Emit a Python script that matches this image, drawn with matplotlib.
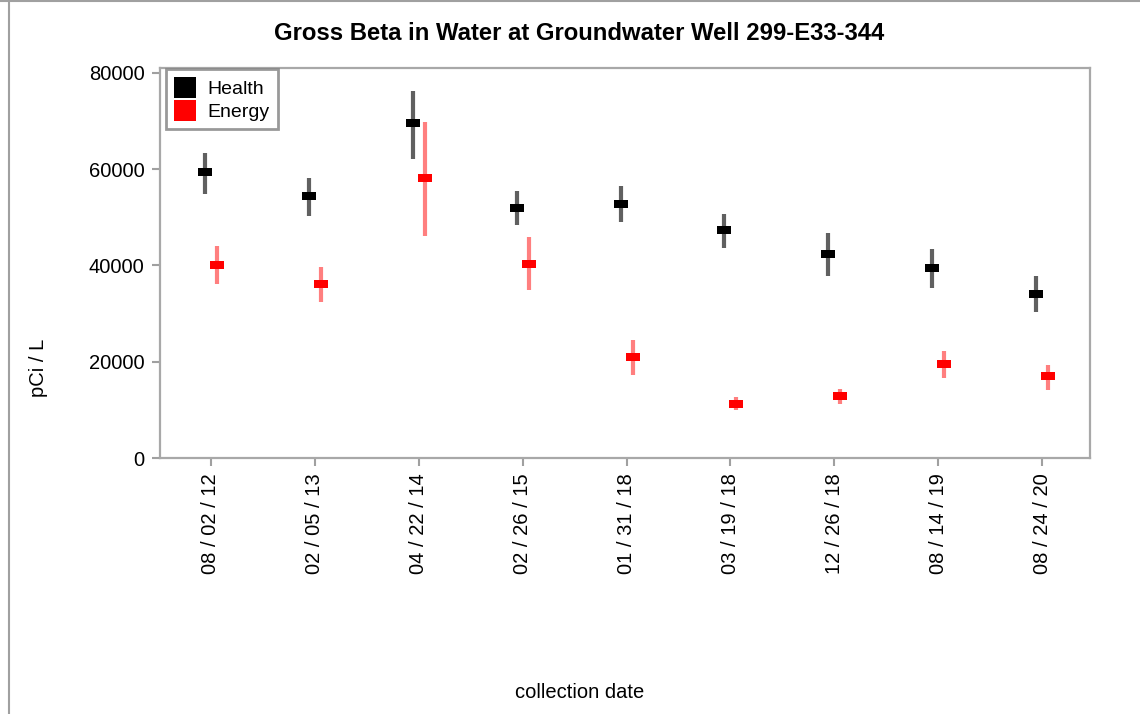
import matplotlib
matplotlib.use("Agg")
import matplotlib.pyplot as plt
import numpy as np
from matplotlib.patches import Patch
from matplotlib.lines import Line2D

plt.rcParams['font.family'] = ['Liberation Sans', 'DejaVu Sans']

dates = ["08 / 02 / 12", "02 / 05 / 13", "04 / 22 / 14", "02 / 26 / 15", "01 / 31 / 18",
         "03 / 19 / 18", "12 / 26 / 18", "08 / 14 / 19", "08 / 24 / 20"]
health = [59300, 54400, 69500, 52000, 52800, 47400, 42400, 39500, 34100]
health_low = [54900, 50300, 62100, 48300, 49000, 43700, 37900, 35400, 30300]
health_high = [63400, 58100, 76300, 55500, 56400, 50600, 46800, 43500, 37700]
energy = [40100, 36200, 58200, 40300, 21000, 11150, 12900, 19500, 17000]
energy_low = [36200, 32400, 46200, 34900, 17200, 9970, 11300, 16600, 14100]
energy_high = [44000, 39700, 69700, 46000, 24500, 12600, 14300, 22200, 19400]
yticks = [0, 20000, 40000, 60000, 80000]

fig = plt.figure(figsize=(11.4, 7.14), dpi=100)
ax = fig.add_axes([160/1140, 1-458/714, 930/1140, 390/714])

x = np.arange(len(dates))
off = 0.058
rect = [(-1, -0.62), (1, -0.62), (1, 0.62), (-1, 0.62), (-1, -0.62)]

def draw(xs, vals, lo, hi, lcol, mcol):
    vals = np.array(vals); lo = np.array(lo); hi = np.array(hi)
    ax.errorbar(xs, vals, yerr=[vals - lo, hi - vals], fmt='none', ecolor=lcol,
                elinewidth=3.0, capsize=0, zorder=2)
    ax.plot(xs, vals, linestyle='none', marker=rect, markersize=9.5,
            color=mcol, markeredgewidth=0, zorder=3)

draw(x - off, health, health_low, health_high, '#606060', 'black')
draw(x + off, energy, energy_low, energy_high, '#ff7f7f', '#ff0000')

ax.set_xlim(-0.49, 8.46)
ax.set_ylim(0, 81000)
ax.set_xticks(x)
ax.set_xticklabels(dates, rotation=90, fontsize=14.5)
ax.set_yticks(yticks)
ax.set_yticklabels([str(v) for v in yticks], fontsize=14.5)
ax.tick_params(axis='both', color='#a0a0a0', length=6, width=1.5, pad=5)
for s in ax.spines.values():
    s.set_color('#a8a8a8')
    s.set_linewidth(1.6)

handles = [Patch(facecolor='black', edgecolor='none', label='Health'),
           Patch(facecolor='#ff0000', edgecolor='none', label='Energy')]
leg = ax.legend(handles=handles, loc='upper left', bbox_to_anchor=(0.006, 0.998),
                borderaxespad=0, fontsize=14, fancybox=False, frameon=True,
                handlelength=1.15, handleheight=1.25, handletextpad=0.6,
                labelspacing=0.12, borderpad=0.42)
leg.get_frame().set_edgecolor('#808080')
leg.get_frame().set_linewidth(2)

fig.text(579/1140, 1-34/714, "Gross Beta in Water at Groundwater Well 299-E33-344",
         ha='center', va='center', fontsize=17.2, fontweight='bold')
fig.text(580/1140, 1-692/714, "collection date", ha='center', va='center', fontsize=14.5)
fig.text(38/1140, 1-368/714, "pCi / L", ha='center', va='center', rotation=90, fontsize=14.5)

fig.add_artist(Line2D([9/1140, 9/1140], [0, 1], transform=fig.transFigure, color='#a0a0a0', lw=1.5))
fig.add_artist(Line2D([0, 1], [1-1/714, 1-1/714], transform=fig.transFigure, color='#a0a0a0', lw=1.5))

fig.savefig("out.png", dpi=100)
